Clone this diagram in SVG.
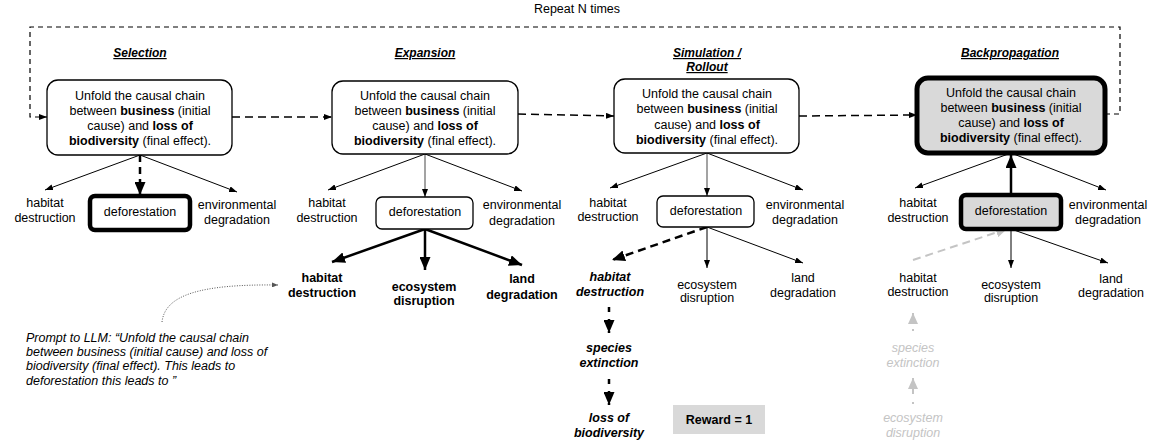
<svg xmlns="http://www.w3.org/2000/svg" width="1151" height="444" viewBox="0 0 1151 444">
<style>
text{font-family:"Liberation Sans",Arial,sans-serif;font-size:12.5px;fill:#000}
.c{text-anchor:middle}
.b{font-weight:bold}
.i{font-style:italic}
.t{font-weight:bold;font-style:italic;text-decoration:underline;font-size:12px}
.g{fill:#c4c4c4}
.box{fill:#fff;stroke:#000;stroke-width:1.3}
.thin{stroke:#000;stroke-width:1;fill:none}
.mid{stroke:#666;stroke-width:1.2;fill:none}
.thick{stroke:#000;stroke-width:2.5;fill:none}
.dash{stroke:#000;stroke-width:1.5;fill:none;stroke-dasharray:8 5}
.loop{stroke:#000;stroke-width:1.2;fill:none;stroke-dasharray:5 4}
</style>
<defs>
<marker id="as" markerUnits="userSpaceOnUse" markerWidth="8" markerHeight="6" refX="8" refY="3" orient="auto"><path d="M0,0 L8,3 L0,6 Z" fill="#000"/></marker>
<marker id="ab" markerUnits="userSpaceOnUse" markerWidth="13" markerHeight="11" refX="13" refY="5.5" orient="auto"><path d="M0,0 L13,5.5 L0,11 Z" fill="#000"/></marker>
<marker id="ag" markerUnits="userSpaceOnUse" markerWidth="11" markerHeight="10" refX="11" refY="5" orient="auto"><path d="M0,0 L11,5 L0,10 Z" fill="#c4c4c4"/></marker>
<marker id="ad" markerUnits="userSpaceOnUse" markerWidth="6" markerHeight="5" refX="6" refY="2.5" orient="auto"><path d="M0,0 L6,2.5 L0,5 Z" fill="#555"/></marker>
</defs>

<text x="577" y="13" class="c">Repeat N times</text>

<g id="connectors">
  <!-- repeat loop -->
  <path class="loop" d="M1105,114 H1120 V27 H30 V117 H47" marker-end="url(#as)"/>
  <line class="dash" x1="232" y1="117" x2="332" y2="117" marker-end="url(#as)"/>
  <line class="dash" x1="518" y1="114" x2="614" y2="116" marker-end="url(#as)"/>
  <line class="dash" x1="799" y1="116" x2="917" y2="115" marker-end="url(#as)"/>

  <!-- selection -->
  <line class="thin" x1="140" y1="155" x2="45" y2="190" marker-end="url(#as)"/>
  <line class="thick" x1="140" y1="155" x2="140" y2="195" stroke-dasharray="7 5" marker-end="url(#ab)"/>
  <line class="thin" x1="140" y1="155" x2="237" y2="192" marker-end="url(#as)"/>

  <!-- expansion -->
  <line class="thin" x1="425" y1="154" x2="328" y2="190" marker-end="url(#as)"/>
  <line class="mid" x1="425" y1="154" x2="425" y2="197" marker-end="url(#as)"/>
  <line class="thin" x1="425" y1="154" x2="522" y2="191" marker-end="url(#as)"/>
  <line class="thick" x1="425" y1="229" x2="332" y2="262" marker-end="url(#ab)"/>
  <line class="thick" x1="425" y1="229" x2="425" y2="270" marker-end="url(#ab)"/>
  <line class="thick" x1="425" y1="229" x2="522" y2="265" marker-end="url(#ab)"/>

  <!-- simulation -->
  <line class="thin" x1="707" y1="153" x2="610" y2="188" marker-end="url(#as)"/>
  <line class="mid" x1="707" y1="153" x2="707" y2="196" marker-end="url(#as)"/>
  <line class="thin" x1="707" y1="153" x2="803" y2="190" marker-end="url(#as)"/>
  <line class="thick" x1="707" y1="227" x2="612" y2="260" stroke-dasharray="8 5" marker-end="url(#ab)"/>
  <line class="thin" x1="707" y1="227" x2="707" y2="268" marker-end="url(#as)"/>
  <line class="thin" x1="707" y1="227" x2="803" y2="263" marker-end="url(#as)"/>
  <line class="thick" x1="609" y1="307" x2="609" y2="333" stroke-dasharray="5 7" marker-end="url(#ab)"/>
  <line class="thick" x1="609" y1="379" x2="609" y2="405" stroke-dasharray="5 7" marker-end="url(#ab)"/>

  <!-- backpropagation -->
  <line class="thin" x1="1011" y1="153" x2="915" y2="188" marker-end="url(#as)"/>
  <line class="thin" x1="1011" y1="153" x2="1106" y2="190" marker-end="url(#as)"/>
  <line class="thick" x1="1011" y1="194" x2="1011" y2="155" marker-end="url(#ab)"/>
  <line class="thin" x1="1011" y1="229" x2="1011" y2="268" marker-end="url(#as)"/>
  <line class="thin" x1="1011" y1="229" x2="1108" y2="263" marker-end="url(#as)"/>
  <line stroke="#c4c4c4" stroke-width="2" stroke-dasharray="8 5" fill="none" x1="913" y1="260" x2="1007" y2="229" marker-end="url(#ag)"/>
  <line stroke="#c4c4c4" stroke-width="2" stroke-dasharray="2 8 20" fill="none" x1="913" y1="331" x2="913" y2="313" marker-end="url(#ag)"/>
  <line stroke="#c4c4c4" stroke-width="2" stroke-dasharray="2 8 20" fill="none" x1="913" y1="404" x2="913" y2="378" marker-end="url(#ag)"/>

  <!-- prompt pointer -->
  <path d="M162,322 C165,295 200,284 278,285" fill="none" stroke="#555" stroke-width="1" stroke-dasharray="1 1.5" marker-end="url(#ad)"/>
</g>

<g id="selection">
  <text x="140" y="57" class="c t">Selection</text>
  <rect class="box" x="47" y="80" width="185" height="75" rx="11"/>
  <text class="c" x="140" y="99.5">Unfold the causal chain</text>
  <text class="c" x="140" y="114.5">between <tspan class="b">business</tspan> (initial</text>
  <text class="c" x="140" y="130">cause) and <tspan class="b">loss of</tspan></text>
  <text class="c" x="140" y="145"><tspan class="b">biodiversity</tspan> (final effect).</text>
</g>
<g id="sel-habitat"><text class="c" x="45" y="207">habitat</text><text class="c" x="45" y="222">destruction</text></g>
<g id="sel-deforestation">
  <rect x="90" y="196" width="100" height="34" rx="5" fill="#fff" stroke="#000" stroke-width="4.5"/>
  <text class="c" x="140" y="215.5">deforestation</text>
</g>
<g id="sel-environmental"><text class="c" x="237" y="209">environmental</text><text class="c" x="237" y="224">degradation</text></g>

<g id="expansion">
  <text x="425" y="57" class="c t">Expansion</text>
  <rect class="box" x="332" y="81" width="186" height="73" rx="11"/>
  <text class="c" x="425" y="99.5">Unfold the causal chain</text>
  <text class="c" x="425" y="114.5">between <tspan class="b">business</tspan> (initial</text>
  <text class="c" x="425" y="130">cause) and <tspan class="b">loss of</tspan></text>
  <text class="c" x="425" y="145"><tspan class="b">biodiversity</tspan> (final effect).</text>
</g>
<g id="exp-habitat"><text class="c" x="327" y="207">habitat</text><text class="c" x="327" y="222">destruction</text></g>
<g id="exp-deforestation">
  <rect class="box" x="376" y="197" width="97" height="32" rx="6"/>
  <text class="c" x="425" y="216">deforestation</text>
</g>
<g id="exp-environmental"><text class="c" x="522" y="209">environmental</text><text class="c" x="522" y="225">degradation</text></g>
<g id="exp-habitat2"><text class="c b" x="322" y="282">habitat</text><text class="c b" x="322" y="297">destruction</text></g>
<g id="exp-ecosystem"><text class="c b" x="424" y="291">ecosystem</text><text class="c b" x="424" y="305">disruption</text></g>
<g id="exp-land"><text class="c b" x="522" y="283">land</text><text class="c b" x="522" y="299">degradation</text></g>

<g id="simulation">
  <text x="707" y="57" class="c t">Simulation /</text>
  <text x="707" y="71" class="c t">Rollout</text>
  <rect class="box" x="614" y="79" width="185" height="74" rx="11"/>
  <text class="c" x="707" y="97.5">Unfold the causal chain</text>
  <text class="c" x="707" y="113">between <tspan class="b">business</tspan> (initial</text>
  <text class="c" x="707" y="128.5">cause) and <tspan class="b">loss of</tspan></text>
  <text class="c" x="707" y="143.5"><tspan class="b">biodiversity</tspan> (final effect).</text>
</g>
<g id="sim-habitat"><text class="c" x="608" y="207">habitat</text><text class="c" x="608" y="221">destruction</text></g>
<g id="sim-deforestation">
  <rect class="box" x="657" y="196" width="97" height="31" rx="6"/>
  <text class="c" x="706" y="214.5">deforestation</text>
</g>
<g id="sim-environmental"><text class="c" x="805" y="209">environmental</text><text class="c" x="805" y="224">degradation</text></g>
<g id="sim-habitat2"><text class="c b i" x="610" y="281">habitat</text><text class="c b i" x="610" y="296">destruction</text></g>
<g id="sim-ecosystem"><text class="c" x="707" y="289">ecosystem</text><text class="c" x="707" y="302">disruption</text></g>
<g id="sim-land"><text class="c" x="803" y="282">land</text><text class="c" x="803" y="297">degradation</text></g>
<g id="sim-species"><text class="c b i" x="609" y="352">species</text><text class="c b i" x="609" y="367">extinction</text></g>
<g id="sim-loss"><text class="c b i" x="609" y="422">loss of</text><text class="c b i" x="609" y="437">biodiversity</text></g>
<g id="reward">
  <rect x="673" y="405" width="92" height="29" fill="#d9d9d9"/>
  <text class="c b" x="719" y="424">Reward = 1</text>
</g>

<g id="backpropagation">
  <text x="1010" y="57" class="c t">Backpropagation</text>
  <rect x="917" y="78" width="188" height="75" rx="11" fill="#d9d9d9" stroke="#000" stroke-width="5"/>
  <text class="c" x="1011" y="96.5">Unfold the causal chain</text>
  <text class="c" x="1011" y="111.5">between <tspan class="b">business</tspan> (initial</text>
  <text class="c" x="1011" y="126.5">cause) and <tspan class="b">loss of</tspan></text>
  <text class="c" x="1011" y="141.5"><tspan class="b">biodiversity</tspan> (final effect).</text>
</g>
<g id="bp-habitat"><text class="c" x="918" y="207">habitat</text><text class="c" x="918" y="222">destruction</text></g>
<g id="bp-deforestation">
  <rect x="961" y="195" width="100" height="34" rx="5" fill="#d9d9d9" stroke="#000" stroke-width="4.5"/>
  <text class="c" x="1011" y="214.5">deforestation</text>
</g>
<g id="bp-environmental"><text class="c" x="1108" y="209">environmental</text><text class="c" x="1108" y="224">degradation</text></g>
<g id="bp-habitat2"><text class="c" x="918" y="282">habitat</text><text class="c" x="918" y="296">destruction</text></g>
<g id="bp-ecosystem"><text class="c" x="1011" y="289">ecosystem</text><text class="c" x="1011" y="302">disruption</text></g>
<g id="bp-land"><text class="c" x="1111" y="283">land</text><text class="c" x="1111" y="297">degradation</text></g>
<g id="bp-species"><text class="c i g" x="913" y="352">species</text><text class="c i g" x="913" y="367">extinction</text></g>
<g id="bp-ecosystem2"><text class="c i g" x="913" y="422">ecosystem</text><text class="c i g" x="913" y="437">disruption</text></g>

<g id="prompt">
  <text class="i" x="26" y="342">Prompt to LLM: “Unfold the causal chain</text>
  <text class="i" x="26" y="356">between business (initial cause) and loss of</text>
  <text class="i" x="26" y="370">biodiversity (final effect). This leads to</text>
  <text class="i" x="26" y="385">deforestation this leads to ”</text>
</g>
</svg>
